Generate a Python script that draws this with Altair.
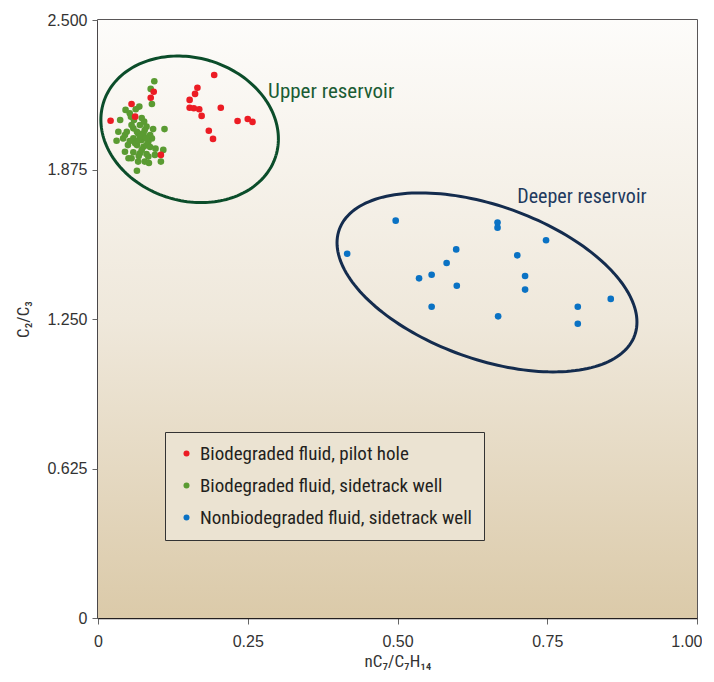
import altair as alt
import numpy as np
import pandas as pd

# ---------------- data ----------------
SERIES = ["Biodegraded fluid, pilot hole",
          "Biodegraded fluid, sidetrack well",
          "Nonbiodegraded fluid, sidetrack well"]
COLORS = ["#ec1c24", "#5a9b32", "#0a72c4"]

red_x = [0.194, 0.166, 0.162, 0.153, 0.153, 0.160, 0.169, 0.173, 0.205, 0.185,
         0.192, 0.233, 0.250, 0.258, 0.021, 0.056, 0.062, 0.093, 0.088, 0.105]
red_y = [2.270, 2.217, 2.191, 2.166, 2.133, 2.131, 2.127, 2.099, 2.133, 2.037,
         2.003, 2.078, 2.086, 2.074, 2.079, 2.149, 2.096, 2.200, 2.175, 1.936]

green_x = [0.094, 0.088, 0.090, 0.069, 0.063, 0.046, 0.053, 0.055, 0.037, 0.111,
           0.034, 0.042, 0.031, 0.109, 0.105, 0.065, 0.096, 0.045, 0.051, 0.067,
           0.078, 0.084, 0.092, 0.090, 0.077, 0.059, 0.048, 0.067, 0.070, 0.081,
           0.065, 0.076, 0.087, 0.059, 0.073, 0.084, 0.065, 0.076, 0.059, 0.070,
           0.081, 0.056, 0.062, 0.081, 0.070, 0.078, 0.045, 0.056, 0.095, 0.067,
           0.073, 0.050, 0.087, 0.060, 0.073, 0.080, 0.053, 0.068, 0.085]
green_y = [2.244, 2.212, 2.149, 2.138, 2.127, 2.124, 2.110, 2.096, 2.082, 2.044,
           2.033, 2.005, 1.995, 1.957, 1.908, 1.870, 1.962, 1.949, 1.922, 1.908,
           1.908, 1.929, 2.044, 2.005, 2.075, 2.047, 2.033, 2.026, 2.061, 2.054,
           2.033, 2.026, 2.019, 2.005, 1.998, 1.991, 1.977, 1.970, 1.947, 1.943,
           1.940, 1.922, 1.985, 1.977, 2.012, 2.040, 2.019, 2.061, 1.936, 1.995,
           1.957, 1.977, 1.969, 2.082, 2.090, 2.007, 1.994, 1.931, 1.902]

blue_x = [0.416, 0.497, 0.536, 0.557, 0.557, 0.582, 0.598, 0.599, 0.667, 0.667,
          0.668, 0.700, 0.713, 0.713, 0.748, 0.801, 0.801, 0.856]
blue_y = [1.523, 1.661, 1.420, 1.435, 1.301, 1.484, 1.541, 1.389, 1.653, 1.632,
          1.261, 1.516, 1.430, 1.373, 1.579, 1.301, 1.230, 1.334]

X_DOMAIN = [0, 1]
Y_DOMAIN = [0, 2.5]
X_TICKS = [0, 0.25, 0.5, 0.75, 1.0]
Y_TICKS = [0, 0.625, 1.25, 1.875, 2.5]

# annotation ellipses: centre (data units), semi-axes (px), tilt (deg)
ELL_NAMES = ["Upper reservoir", "Deeper reservoir"]
ELL_CX = [0.153, 0.6494]
ELL_CY = [2.043, 1.403]
ELL_A = [90.2, 156.9]
ELL_B = [71.5, 76.7]
ELL_TILT = [17.0, 19.7]
ELL_COLORS = ["#0b4d2a", "#142c4e"]

LABEL_TEXT = ["Upper reservoir", "Deeper reservoir"]
LABEL_X = [0.284, 0.700]
LABEL_Y = [2.173, 1.736]
LABEL_SIZES = [21, 20]
LABEL_COLORS = ["#1b5c34", "#1f3a5e"]

W, H = 599, 598
FONT_N = "Roboto Condensed, Roboto, sans-serif"
FONT = "Liberation Sans, Arial, sans-serif"

# ---------------- tables ----------------
pts = pd.concat([
    pd.DataFrame({"x": green_x, "y": green_y, "series": SERIES[1]}),
    pd.DataFrame({"x": red_x, "y": red_y, "series": SERIES[0]}),
    pd.DataFrame({"x": blue_x, "y": blue_y, "series": SERIES[2]}),
], ignore_index=True)
pts["o"] = range(len(pts))

t = np.linspace(0, 2 * np.pi, 181)
ell_frames = []
for i, name in enumerate(ELL_NAMES):
    phi = np.deg2rad(ELL_TILT[i])
    dx = ELL_A[i] * np.cos(t) * np.cos(phi) - ELL_B[i] * np.sin(t) * np.sin(phi)
    dy = ELL_A[i] * np.cos(t) * np.sin(phi) + ELL_B[i] * np.sin(t) * np.cos(phi)
    ell_frames.append(pd.DataFrame({
        "x": ELL_CX[i] + dx / W * (X_DOMAIN[1] - X_DOMAIN[0]),
        "y": ELL_CY[i] - dy / H * (Y_DOMAIN[1] - Y_DOMAIN[0]),
        "i": np.arange(len(t)),
        "name": name,
    }))

bg_df = pd.DataFrame({"x": [X_DOMAIN[0]], "x2": [X_DOMAIN[1]],
                      "y": [Y_DOMAIN[0]], "y2": [Y_DOMAIN[1]]})

# ---------------- encodings ----------------
def X():
    return alt.X("x:Q", scale=alt.Scale(domain=X_DOMAIN, nice=False, zero=False),
                 axis=alt.Axis(values=X_TICKS, title="nC₇/C₇H₁₄", labelFlush=False,
                               labelAlign={"condition": {"test": "datum.value >= 1", "value": "right"},
                                           "value": "center"},
                               labelOffset={"condition": {"test": "datum.value >= 1", "value": 5},
                                            "value": 0},
                               labelExpr="datum.value == 0 ? '0' : format(datum.value, '.2f')"))

def Y():
    return alt.Y("y:Q", scale=alt.Scale(domain=Y_DOMAIN, nice=False, zero=False),
                 axis=alt.Axis(values=Y_TICKS, title="C₂/C₃", labelFlush=False,
                               labelExpr="datum.value == 0 ? '0' : format(datum.value, '.3f')"))

bg = alt.Chart(bg_df).mark_rect(
    color=alt.Gradient(gradient="linear",
                       stops=[alt.GradientStop(color="#fdfcfa", offset=0),
                              alt.GradientStop(color="#efe8db", offset=0.5),
                              alt.GradientStop(color="#dbcaa9", offset=1)],
                       x1=0, x2=0, y1=0, y2=1)
).encode(x=X(), x2="x2:Q", y=Y(), y2="y2:Q")

layers = [bg]
for i, name in enumerate(ELL_NAMES):
    layers.append(
        alt.Chart(ell_frames[i]).mark_line(strokeWidth=3, color=ELL_COLORS[i])
        .encode(x=X(), y=Y(), order="i:Q")
    )

points = alt.Chart(pts).mark_circle(size=44, opacity=1).encode(
    x=X(), y=Y(), order="o:Q",
    color=alt.Color("series:N",
                    scale=alt.Scale(domain=SERIES, range=COLORS),
                    legend=alt.Legend(title=None, orient="none", legendX=67, legendY=412,
                                      padding=12, rowPadding=12, symbolType="circle",
                                      symbolSize=36, symbolStrokeWidth=0, symbolOpacity=1,
                                      symbolOffset=0, labelOffset=4,
                                      labelFont=FONT_N, labelFontSize=19,
                                      labelColor="#231f20", labelLimit=400,
                                      fillColor="#ebe3d2", strokeColor="#333333")),
)
layers.append(points)

for i in range(len(LABEL_TEXT)):
    ldf = pd.DataFrame({"x": [LABEL_X[i]], "y": [LABEL_Y[i]], "text": [LABEL_TEXT[i]]})
    layers.append(
        alt.Chart(ldf).mark_text(align="left", baseline="alphabetic", font=FONT_N,
                                 fontSize=LABEL_SIZES[i], color=LABEL_COLORS[i])
        .encode(x=X(), y=Y(), text="text:N")
    )

chart = alt.layer(*layers).properties(
    width=W, height=H,
    autosize=alt.AutoSizeParams(type="none"),
    padding={"left": 90, "top": 12, "right": 5, "bottom": 56},
    background="white",
).configure_view(
    stroke="#231f20", strokeWidth=1.5
).configure_axis(
    grid=False, domainColor="#231f20", domainWidth=1.5,
    tickColor="#666666", tickSize=6, tickWidth=1,
    labelFont=FONT, labelFontSize=16, labelColor="#333333", labelPadding=5,
    titleFont=FONT_N, titleFontSize=17, titleFontWeight="normal", titleColor="#333333",
).configure_axisX(labelPadding=9, titlePadding=4).configure_axisY(titlePadding=14)

chart.save("out.html", embed_options={"renderer": "svg", "actions": False})
